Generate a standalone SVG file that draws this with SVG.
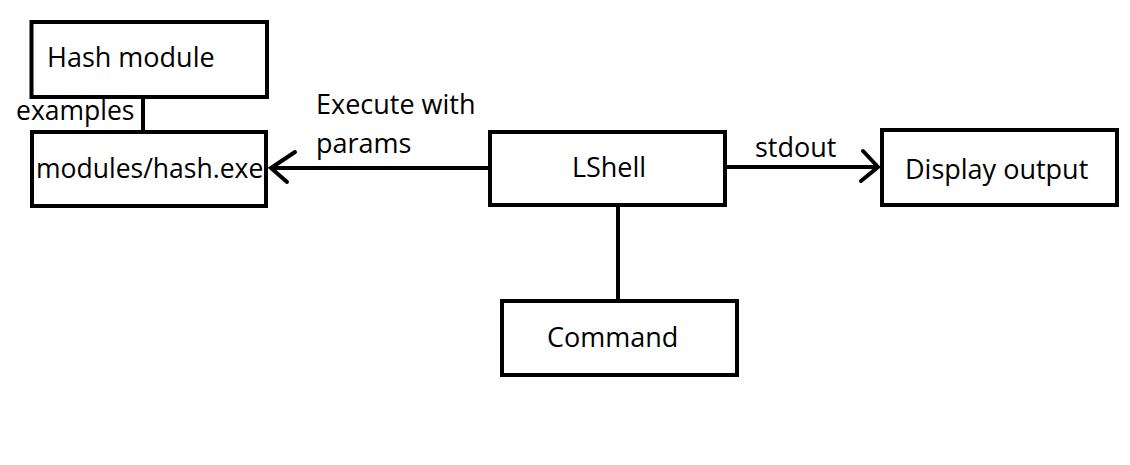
<svg xmlns="http://www.w3.org/2000/svg" width="1130" height="465" viewBox="0 0 1130 465">
<style>
.box{fill:#fff;stroke:#000;stroke-width:4}
.ln{fill:none;stroke:#000;stroke-width:4}
.ah{fill:none;stroke:#000;stroke-width:4;stroke-linecap:round;stroke-linejoin:miter}
text{font-family:"Open Sans","Noto Sans",sans-serif;font-size:27px;fill:#000}
.sm{font-size:26.5px}
</style>
<rect width="1130" height="465" fill="#fff"/>
<g id="connectors">
<line class="ln" x1="143" y1="99" x2="143" y2="130"/>
<line class="ln" x1="488" y1="168" x2="271" y2="168"/>
<polyline class="ah" points="295,152 271,168 287,182"/>
<line class="ln" x1="727" y1="167" x2="877" y2="167"/>
<polyline class="ah" points="863,151 878,167 861,181"/>
<line class="ln" x1="618" y1="207" x2="618" y2="299"/>
<text class="sm" x="16" y="120">examples</text>
<text x="316" y="114">Execute with</text>
<text x="316" y="153">params</text>
<text x="755" y="157">stdout</text>
</g>
<g id="hash-module">
<rect class="box" x="31.5" y="22" width="235.5" height="75"/>
<text x="47" y="67">Hash module</text>
</g>
<g id="hash-exe">
<rect class="box" x="32" y="132" width="234" height="74"/>
<text class="sm" x="36" y="178">modules/hash.exe</text>
</g>
<g id="lshell">
<rect class="box" x="490" y="132" width="235" height="73"/>
<text x="609" y="177" text-anchor="middle">LShell</text>
</g>
<g id="display-output">
<rect class="box" x="882" y="130" width="235" height="75"/>
<text x="905" y="179">Display output</text>
</g>
<g id="command">
<rect class="box" x="502" y="301" width="235" height="74"/>
<text x="547" y="347">Command</text>
</g>
</svg>
